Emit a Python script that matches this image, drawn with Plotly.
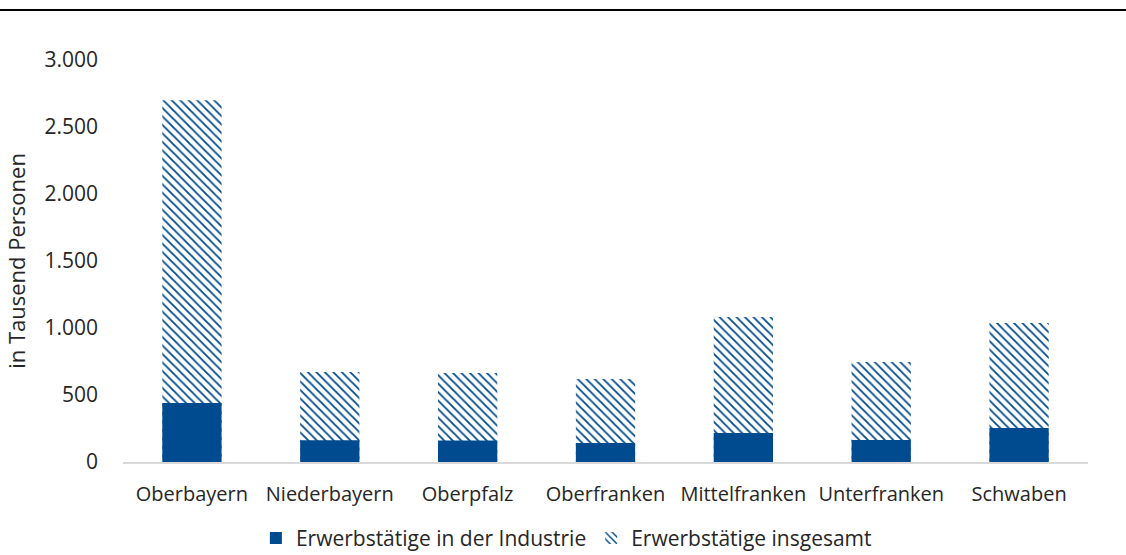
import plotly.graph_objects as go

# Regierungsbezirke in Bayern
regions = ["Oberbayern", "Niederbayern", "Oberpfalz", "Oberfranken",
           "Mittelfranken", "Unterfranken", "Schwaben"]
# Erwerbstätige insgesamt (in Tausend)
total = [2700, 672, 664, 620, 1083, 746, 1038]
# Erwerbstätige in der Industrie (in Tausend)
industry = [440, 163, 161, 142, 217, 164, 254]

y_ticks = [0, 500, 1000, 1500, 2000, 2500, 3000]

BLUE = "#004A8F"
FONT = "'Open Sans', sans-serif"

fig = go.Figure()

# total bars with diagonal hatch, drawn first so the solid bar sits on top
fig.add_trace(go.Bar(
    x=regions,
    y=total,
    name="Erwerbstätige insgesamt",
    marker=dict(
        color="white",
        line=dict(width=0),
        pattern=dict(shape="\\", fgcolor=BLUE, bgcolor="white",
                     fgopacity=1, size=6, solidity=0.3, fillmode="replace"),
    ),
    legendrank=2,
))

fig.add_trace(go.Bar(
    x=regions,
    y=industry,
    name="Erwerbstätige in der Industrie",
    marker=dict(color=BLUE, line=dict(width=0)),
    legendrank=1,
))

fig.update_layout(
    width=1126,
    height=555,
    barmode="overlay",
    bargap=0.57,
    separators=",.",
    paper_bgcolor="white",
    plot_bgcolor="white",
    font=dict(family=FONT, size=20, color="#262626"),
    margin=dict(l=123, r=38, t=60, b=93),
    showlegend=True,
    legend=dict(
        orientation="h",
        xref="container",
        x=0.503,
        xanchor="center",
        yref="container",
        y=0.03,
        yanchor="middle",
        font=dict(size=21),
        itemwidth=30,
    ),
)

# top rule across the whole chart
fig.add_shape(type="line", xref="paper", yref="paper",
              x0=-123 / 965, x1=(1126 - 123) / 965,
              y0=1 + 50 / 402, y1=1 + 50 / 402,
              line=dict(color="black", width=2))

fig.update_xaxes(
    showline=True,
    linecolor="#D9D9D9",
    linewidth=1.5,
    showgrid=False,
    ticks="",
    ticklabelstandoff=13,
    tickfont=dict(size=20),
)

fig.update_yaxes(
    range=[0, 3000],
    tickvals=y_ticks,
    tickformat=",d",
    showgrid=False,
    zeroline=False,
    showline=False,
    ticks="",
    ticklabelstandoff=24,
    tickfont=dict(size=21),
    title=dict(text="in Tausend Personen", standoff=12, font=dict(size=22)),
)

fig.write_html("out.html", config={"displayModeBar": False},
               post_script="document.body.style.margin='0';")
